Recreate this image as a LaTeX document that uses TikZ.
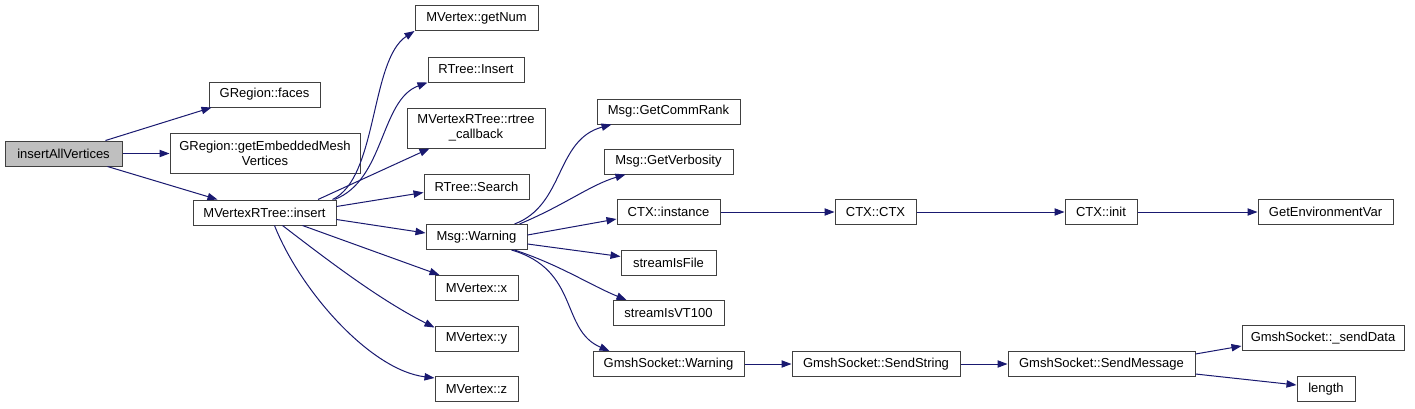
\documentclass[tikz,border=0pt]{standalone}
\usepackage{fontspec}
\setmainfont{Liberation Sans}
\usetikzlibrary{arrows.meta,calc}
\definecolor{edgec}{HTML}{191970}
\definecolor{bordc}{HTML}{404040}
\definecolor{graybox}{HTML}{BFBFBF}
\begin{document}
\begin{tikzpicture}[x=0.75pt,y=-0.75pt,
 box/.style={draw=bordc, line width=0.75pt, fill=white, inner sep=0pt, align=center,
   font=\fontsize{9.75}{11.25}\selectfont, minimum height=18.75pt},
 tall/.style={minimum height=30pt},
 e/.style={draw=edgec, line width=0.75pt, -{Triangle[length=7.5pt,width=5.5pt]}},
]
\useasboundingbox[fill=white] (0,0) rectangle (1415,408);

% column 0
\node[box, fill=graybox, minimum width=87.75pt] (iav) at (63.5,153.5) {insertAllVertices};
% column 1
\node[box, minimum width=83.25pt] (gf) at (264.5,94.5) {GRegion::faces};
\node[box, tall, minimum width=142.5pt] (gemv) at (265,153.5) {GRegion::getEmbeddedMesh\\Vertices};
\node[box, minimum width=107.25pt] (ins) at (264.5,212.5) {MVertexRTree::insert};
% column 2
\node[box, minimum width=92.25pt] (gn) at (476.5,18) {MVertex::getNum};
\node[box, minimum width=72pt] (ri) at (476,69.5) {RTree::Insert};
\node[box, tall, minimum width=103.5pt] (rc) at (476,128) {MVertexRTree::rtree\\\_callback};
\node[box, minimum width=78.75pt] (rs) at (476.5,186.5) {RTree::Search};
\node[box, minimum width=75.75pt] (mw) at (476.5,237) {Msg::Warning};
\node[box, minimum width=62.25pt] (mx) at (476.5,288) {MVertex::x};
\node[box, minimum width=62.25pt] (my) at (476.5,338.5) {MVertex::y};
\node[box, minimum width=62.25pt] (mz) at (476.5,389) {MVertex::z};
% column 3
\node[box, minimum width=107.25pt] (gcr) at (668.5,111.5) {Msg::GetCommRank};
\node[box, minimum width=96.75pt] (gv) at (668.5,161.5) {Msg::GetVerbosity};
\node[box, minimum width=77.25pt] (ci) at (668.5,212) {CTX::instance};
\node[box, minimum width=71.25pt] (sif) at (668.5,262.5) {streamIsFile};
\node[box, minimum width=83.25pt] (svt) at (668.5,313) {streamIsVT100};
\node[box, minimum width=113.25pt] (gw) at (668.5,364) {GmshSocket::Warning};
% column 4+
\node[box, minimum width=60.75pt] (cc) at (875.5,212) {CTX::CTX};
\node[box, minimum width=54pt] (cin) at (1101,212) {CTX::init};
\node[box, minimum width=101.25pt] (gev) at (1325.5,212) {GetEnvironmentVar};
\node[box, minimum width=126pt] (ss) at (876,364) {GmshSocket::SendString};
\node[box, minimum width=140.25pt] (sm) at (1101.5,364) {GmshSocket::SendMessage};
\node[box, minimum width=121.5pt] (sd) at (1323,338) {GmshSocket::\_sendData};
\node[box, minimum width=43.5pt] (len) at (1326,389) {length};

% edges from insertAllVertices
\draw[e] ($(iav.north)+(42,0)$) -- ($(gf.south west)+(3,0)$);
\draw[e] (iav) -- (gemv);
\draw[e] ($(iav.south)+(44,0)$) -- ($(ins.north west)+(25,0)$);

% edges from MVertexRTree::insert
\draw[e] ($(ins.north east)+(-4,0)$) .. controls (378,178) and (370,60) .. (gn.south west);
\draw[e] ($(ins.north east)+(-2,0)$) .. controls (385,180) and (380,100) .. (ri.south west);
\draw[e] ($(ins.north)+(53.5,0)$) -- ($(rc.south west)+(23,0)$);
\draw[e] ($(ins.east)+(0,-6)$) -- ($(rs.west)+(0,6)$);
\draw[e] ($(ins.east)+(0,7)$) -- ($(mw.west)+(0,-4)$);
\draw[e] ($(ins.south)+(38,0)$) -- ($(mx.north west)+(5,0)$);
\draw[e] ($(ins.south)+(18,0)$) .. controls (330,262) and (380,300) .. ($(my.north west)+(0,2)$);
\draw[e] ($(ins.south)+(10,0)$) .. controls (300,290) and (370,370) .. ($(mz.north west)+(0,2)$);

% edges from Msg::Warning
\draw[e] ($(mw.north)+(38,0)$) .. controls (565,205) and (555,140) .. ($(gcr.south west)+(15,0)$);
\draw[e] ($(mw.north)+(43,0)$) .. controls (565,205) and (590,185) .. ($(gv.south west)+(22,0)$);
\draw[e] ($(mw.east)+(0,-2)$) -- ($(ci.west)+(0,7)$);
\draw[e] ($(mw.east)+(0,7)$) -- ($(sif.west)+(0,-6)$);
\draw[e] ($(mw.south)+(38,0)$) .. controls (560,265) and (590,285) .. ($(svt.north west)+(14,0)$);
\draw[e] ($(mw.south)+(35,0)$) .. controls (580,270) and (560,330) .. ($(gw.north west)+(17,0)$);

% chains
\draw[e] (ci) -- (cc);
\draw[e] (cc) -- (cin);
\draw[e] (cin) -- (gev);
\draw[e] (gw) -- (ss);
\draw[e] (ss) -- (sm);
\draw[e] ($(sm.east)+(0,-10)$) -- ($(sd.west)+(0,8)$);
\draw[e] ($(sm.east)+(0,10)$) -- ($(len.west)+(0,-4)$);
\end{tikzpicture}
\end{document}
